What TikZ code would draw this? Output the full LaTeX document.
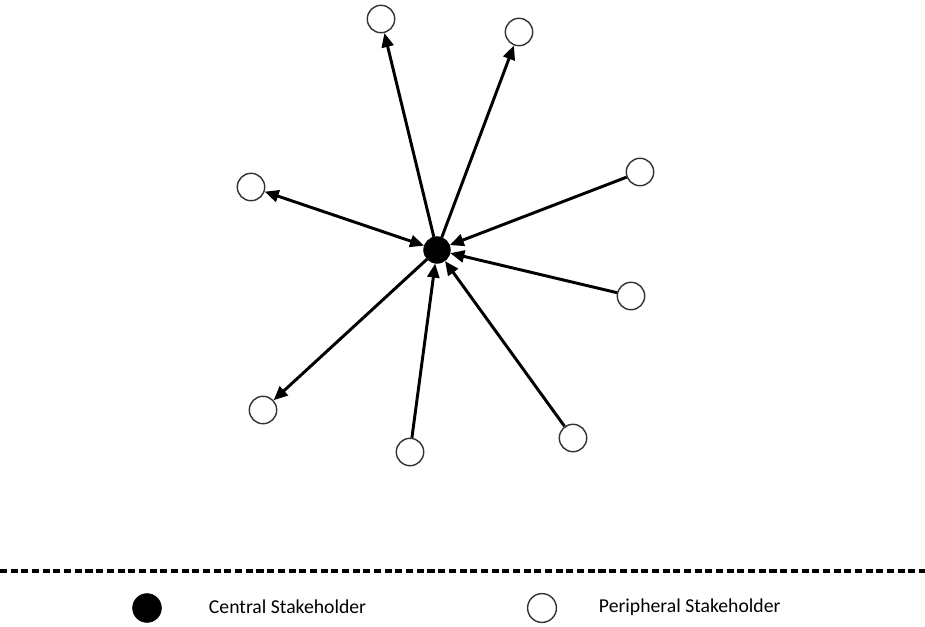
\documentclass[tikz,border=0pt]{standalone}
\usepackage{fontspec}
\setmainfont{Carlito}
\usetikzlibrary{arrows.meta}
\tikzset{
	hub/.style={circle, fill=black, draw=black, minimum size=19pt, inner sep=0},
	rim/.style={circle, fill=white, draw=black!80, line width=1pt, minimum size=19.5pt, inner sep=0},
	link/.style={line width=2.1pt, -{Triangle[length=10pt, width=8.5pt]}},
	legendtext/.style={anchor=west, font=\fontsize{14}{16}\selectfont}
}

\begin{document}
\begin{tikzpicture}[x=0.025cm, y=-0.025cm]
		%%%%% START %%%%%
		\useasboundingbox (0, 0) rectangle (925, 626);
		
		\node[hub] (c) at (437, 250) {};
		
		\node[rim] (p1) at (381, 19) {};
		\node[rim] (p2) at (519, 32) {};
		\node[rim] (p3) at (640, 172) {};
		\node[rim] (p4) at (631, 296) {};
		\node[rim] (p5) at (573, 438) {};
		\node[rim] (p6) at (410, 452) {};
		\node[rim] (p7) at (263, 410) {};
		\node[rim] (p8) at (251, 187) {};
		
		\draw[link] (c) -- (p1);
		\draw[link] (c) -- (p2);
		\draw[link] (p3) -- (c);
		\draw[link] (p4) -- (c);
		\draw[link] (p5) -- (c);
		\draw[link] (p6) -- (c);
		\draw[link] (c) -- (p7);
		\draw[link, {Triangle[length=10pt, width=8.5pt]}-{Triangle[length=10pt, width=8.5pt]}] (p8) -- (c);
		
		% legend
		\coordinate (la) at (0, 571);
		\coordinate (lb) at (925, 571);
		\draw[line width=2.4pt, dash pattern=on 5pt off 2.6pt] (la) -- (lb);
		
		\node[hub, minimum size=20.5pt] (kc) at (147, 608) {};
		\node[legendtext] (kct) at (204, 607) {Central Stakeholder};
		\node[rim, minimum size=20.5pt] (kp) at (542, 608) {};
		\node[legendtext] (kpt) at (594, 607) {Peripheral Stakeholder};
		
		%%%%% END %%%%%
	\end{tikzpicture}
\end{document}
